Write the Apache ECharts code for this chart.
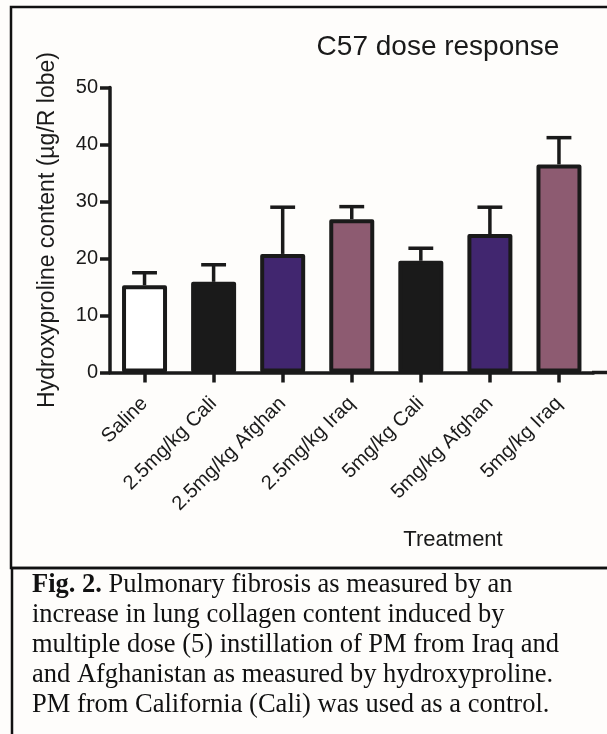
<!DOCTYPE html>
<html>
<head>
<meta charset="utf-8">
<script src="https://cdn.jsdelivr.net/npm/echarts@6/dist/echarts.min.js"></script>
<style>
html,body{margin:0;padding:0;background:#fefdfb;}
#chart{width:607px;height:734px;}
</style>
</head>
<body>
<div id="chart"></div>
<script>
var categories = ['Saline', '2.5mg/kg Cali', '2.5mg/kg Afghan', '2.5mg/kg Iraq', '5mg/kg Cali', '5mg/kg Afghan', '5mg/kg Iraq'];
var means = [15.3, 15.9, 20.8, 26.9, 19.6, 24.3, 36.5];
var sem = [2.2, 3.0, 8.2, 2.2, 2.2, 4.7, 4.7];
var barColors = ['#ffffff', '#1a1a1a', '#41266f', '#8d5b71', '#1a1a1a', '#41266f', '#8d5b71'];
var yTicks = [0, 10, 20, 30, 40, 50];
var captionLines = [
  '{b|Fig. 2.} Pulmonary fibrosis as measured by an',
  'increase in lung collagen content induced by',
  'multiple dose (5) instillation of PM from Iraq and',
  'and Afghanistan as measured by hydroxyproline.',
  'PM from California (Cali) was used as a control.'
];

var ink = '#1a1a1a';
var chart = echarts.init(document.getElementById('chart'), null, {renderer: 'canvas'});

var barData = means.map(function (v, i) {
  return {value: v, itemStyle: {color: barColors[i]}};
});
var errData = means.map(function (v, i) { return [i, v, v + sem[i]]; });

var option = {
  backgroundColor: '#fefdfb',
  animation: false,
  title: [
    {text: 'C57 dose response', left: 433, top: 28, textAlign: 'center',
     textStyle: {fontFamily: 'Liberation Sans, Arial', fontSize: 28, fontWeight: 'normal', color: ink}},
    {text: 'Treatment', left: 448, top: 524, textAlign: 'center',
     textStyle: {fontFamily: 'Liberation Sans, Arial', fontSize: 22, fontWeight: 'normal', color: ink}}
  ],
  grid: {left: 110, right: 13.5, top: 87.5, bottom: 361.5, containLabel: false},
  xAxis: {
    type: 'category',
    data: categories,
    axisLine: {lineStyle: {color: ink, width: 3.5}},
    axisTick: {show: true, alignWithLabel: true, length: 10, lineStyle: {color: ink, width: 3.5}},
    axisLabel: {rotate: 45, margin: 28, fontFamily: 'Liberation Sans, Arial', fontSize: 20, color: ink, interval: 0}
  },
  yAxis: {
    type: 'value',
    min: yTicks[0],
    max: yTicks[yTicks.length - 1],
    interval: yTicks[1] - yTicks[0],
    name: 'Hydroxyproline content (µg/R lobe)',
    nameLocation: 'middle',
    nameRotate: 90,
    nameGap: 51,
    nameTextStyle: {fontFamily: 'Liberation Sans, Arial', fontSize: 23, color: ink},
    splitLine: {show: false},
    axisLine: {show: true, lineStyle: {color: ink, width: 3.5}},
    axisTick: {show: true, length: 10, lineStyle: {color: ink, width: 3.5}},
    axisLabel: {margin: 12, fontFamily: 'Liberation Sans, Arial', fontSize: 20, color: ink}
  },
  series: [
    {
      type: 'bar',
      data: barData,
      barWidth: 45,
      z: 2,
      itemStyle: {borderColor: ink, borderWidth: 4, borderJoin: 'round'}
    },
    {
      type: 'custom',
      z: 1,
      data: errData,
      encode: {x: 0, y: [1, 2]},
      renderItem: function (params, api) {
        var i = api.value(0);
        var lo = api.coord([i, api.value(1)]);
        var hi = api.coord([i, api.value(2)]);
        var half = api.size([1, 0])[0] * 0.18;
        return {
          type: 'group',
          children: [
            {type: 'line', shape: {x1: lo[0], y1: lo[1], x2: hi[0], y2: hi[1]},
             style: {stroke: ink, lineWidth: 3.5}},
            {type: 'line', shape: {x1: hi[0] - half, y1: hi[1], x2: hi[0] + half, y2: hi[1]},
             style: {stroke: ink, lineWidth: 3.5}}
          ]
        };
      }
    }
  ],
  graphic: [
    {type: 'rect', shape: {x: 11, y: 7, width: 620, height: 561}, z: -1,
     style: {fill: 'none', stroke: '#111', lineWidth: 2.5}},
    {type: 'rect', shape: {x: 12, y: 568, width: 620, height: 200}, z: -1,
     style: {fill: 'none', stroke: '#111', lineWidth: 2.5}},
    {type: 'line', shape: {x1: 592, y1: 372.5, x2: 610, y2: 372.5},
     style: {stroke: ink, lineWidth: 3.5}},
    {type: 'text', left: 32, top: 570,
     style: {
       text: captionLines.join('\n'),
       font: '26.5px "Liberation Serif", "Times New Roman", serif',
       fill: '#111',
       lineHeight: 30,
       rich: {b: {fontWeight: 'bold', fontSize: 26.5, fontFamily: 'Liberation Serif', lineHeight: 30, fill: '#111'}}
     }}
  ]
};
chart.setOption(option);
</script>
</body>
</html>
